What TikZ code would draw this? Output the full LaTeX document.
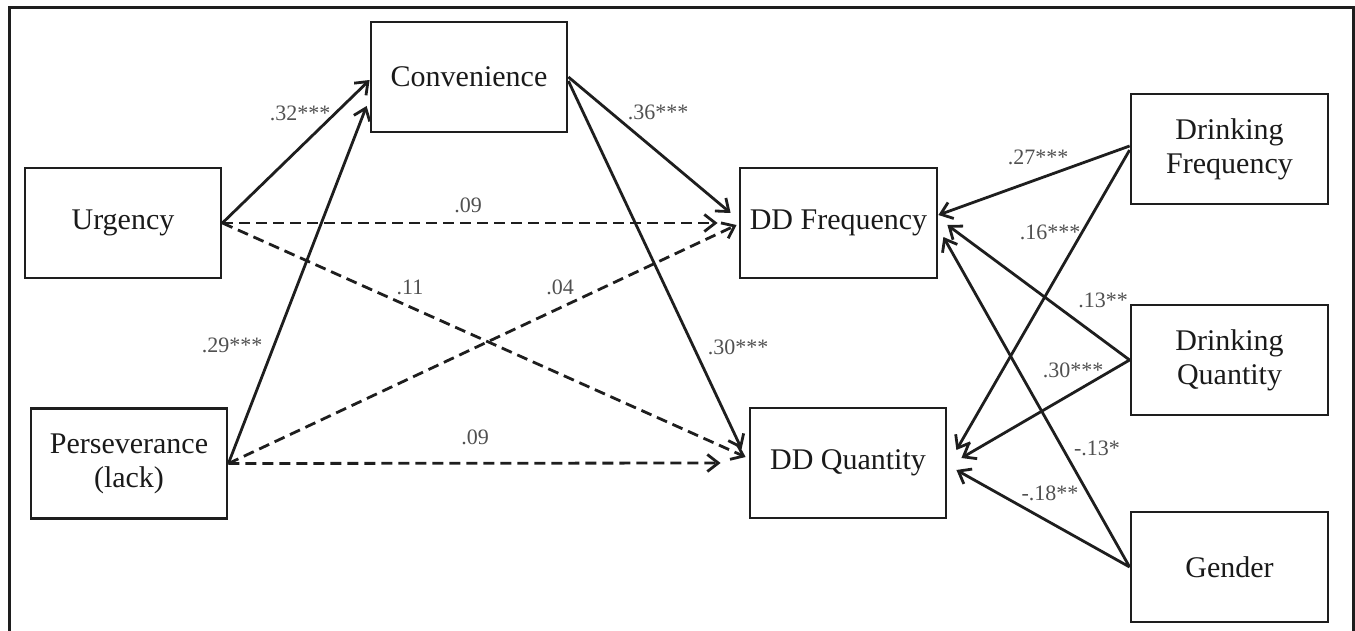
\documentclass[tikz,border=0pt]{standalone}
\usepackage{fontspec}
\setmainfont{Liberation Serif}
\usetikzlibrary{arrows.meta}
\definecolor{txt}{HTML}{1A1A1A}
\definecolor{lbl}{HTML}{505050}
\definecolor{ln}{HTML}{1E1E1E}
\begin{document}
\begin{tikzpicture}[x=1pt,y=-1pt,
  box/.style={draw=ln, line width=2.8pt, minimum width=196pt, minimum height=110pt, inner sep=0pt, align=center, font=\fontsize{30}{34}\selectfont, text=txt},
  arr/.style={line width=2.8pt, draw=ln, -{Straight Barb[length=11pt,width=17pt]}},
  darr/.style={arr, dash pattern=on 11pt off 6pt},
  lab/.style={font=\fontsize{22}{24}\selectfont, text=lbl, inner sep=0pt}]
\useasboundingbox (0,0) rectangle (1355,631);
\draw[line width=3pt, draw=ln] (9,631) -- (9,8) -- (1353,8) -- (1353,631);

\node[box] (urg) at (123,223) {Urgency};
\node[box] (pers) at (129,463.5) {Perseverance\\(lack)};
\node[box] (conv) at (469,77) {Convenience};
\node[box, minimum width=197pt] (ddf) at (838.5,223) {DD Frequency};
\node[box] (ddq) at (848,463) {DD Quantity};
\node[box, minimum width=197pt] (dfr) at (1229.5,149) {Drinking\\Frequency};
\node[box, minimum width=197pt] (dqt) at (1229.5,360) {Drinking\\Quantity};
\node[box, minimum width=197pt] (gen) at (1229.5,567) {Gender};

% to convenience
\draw[arr] (urg.east) -- ([yshift=-3pt]conv.west);
\draw[arr] (pers.east) -- ([xshift=-3pt,yshift=-29pt]conv.west);
% from convenience
\draw[arr] (conv.east) -- ([xshift=-8pt,yshift=10pt]ddf.west);
\draw[arr] ([yshift=-4pt]conv.east) -- ([xshift=-7pt,yshift=14pt]ddq.west);
% dashed
\draw[darr] (urg.east) -- ([xshift=-21pt]ddf.west);
\draw[darr] (urg.east) -- ([xshift=-3pt,yshift=6pt]ddq.west);
\draw[darr] (pers.east) -- ([xshift=-2pt,yshift=-2pt]ddf.west);
\draw[darr] (pers.east) -- ([xshift=-28pt]ddq.west);
% covariates
\draw[arr] ([yshift=3pt]dfr.west) -- ([yshift=8pt]ddf.east);
\draw[arr] ([yshift=-1pt]dfr.west) -- ([xshift=9pt,yshift=13pt]ddq.east);
\draw[arr] (dqt.west) -- ([xshift=9pt,yshift=-2pt]ddf.east);
\draw[arr] (dqt.west) -- ([xshift=14pt,yshift=5pt]ddq.east);
\draw[arr] (gen.west) -- ([xshift=5pt,yshift=-14pt]ddf.east);
\draw[arr] (gen.west) -- ([xshift=9pt,yshift=-7pt]ddq.east);

% labels
\node[lab] (l1) at (300,113) {.32***};
\node[lab] (l2) at (232,345) {.29***};
\node[lab] (l3) at (658,112) {.36***};
\node[lab] (l4) at (468,205) {.09};
\node[lab] (l5) at (410,287) {.11};
\node[lab] (l6) at (560,287) {.04};
\node[lab] (l7) at (738,347) {.30***};
\node[lab] (l8) at (475,437) {.09};
\node[lab] (l9) at (1038,157) {.27***};
\node[lab] (l10) at (1050,232) {.16***};
\node[lab] (l11) at (1103,300) {.13**};
\node[lab] (l12) at (1073,370) {.30***};
\node[lab] (l13) at (1097,448) {-.13*};
\node[lab] (l14) at (1050,493) {-.18**};
\end{tikzpicture}
\end{document}
